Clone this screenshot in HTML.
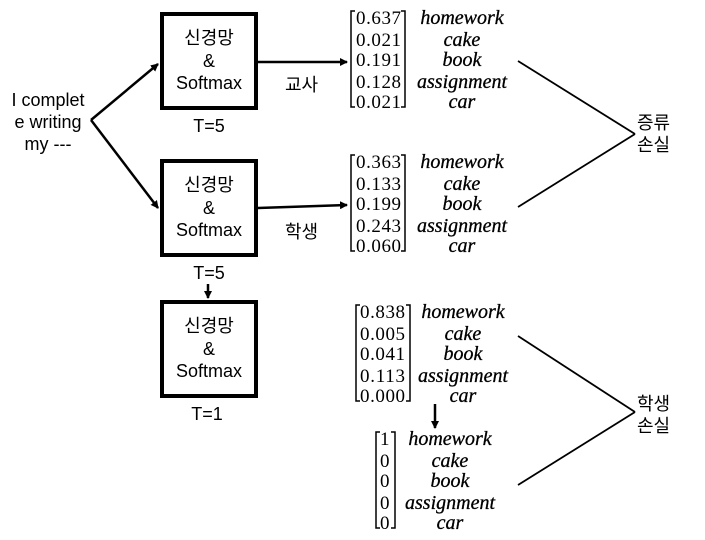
<!DOCTYPE html>
<html><head><meta charset="utf-8"><style>
html,body{margin:0;padding:0;background:#fff;}
svg{display:block}
.k{font-family:"Liberation Sans","Noto Sans CJK KR",sans-serif;font-size:18px;fill:#000}
.n{font-family:"Liberation Serif",serif;font-size:19px;fill:#000}
.w{font-family:"Liberation Serif",serif;font-style:italic;font-size:20px;fill:#000;stroke:#000;stroke-width:0.3}
</style></head><body>
<svg width="705" height="540" viewBox="0 0 705 540" xmlns="http://www.w3.org/2000/svg">
<defs><marker id="a" markerWidth="8" markerHeight="8" refX="7" refY="4" orient="auto" markerUnits="userSpaceOnUse"><path d="M0,0L8,4L0,8z" fill="#000"/></marker></defs>
<g stroke="#000" stroke-width="4" fill="none">
<rect x="162" y="14" width="94" height="94"/>
<rect x="162" y="161" width="94" height="94"/>
<rect x="162" y="302" width="94" height="94"/>
</g>
<g class="k" text-anchor="middle">
<text x="209" y="44">신경망</text><text x="209" y="67">&amp;</text><text x="209" y="89">Softmax</text>
<text x="209" y="191">신경망</text><text x="209" y="214">&amp;</text><text x="209" y="236">Softmax</text>
<text x="209" y="332">신경망</text><text x="209" y="355">&amp;</text><text x="209" y="377">Softmax</text>
<text x="209" y="132">T=5</text><text x="209" y="279">T=5</text><text x="207" y="420">T=1</text>
<text x="48" y="106">I complet</text><text x="48" y="128">e writing</text><text x="48" y="150">my ---</text>
</g>
<text class="k" x="285" y="91">교사</text>
<text class="k" x="285" y="238">학생</text>
<text class="k" x="637" y="129">증류</text><text class="k" x="637" y="151">손실</text>
<text class="k" x="637" y="410">학생</text><text class="k" x="637" y="432">손실</text>
<g stroke="#000" stroke-width="2.5" fill="none">
<line x1="91" y1="120" x2="158" y2="64" marker-end="url(#a)"/>
<line x1="91" y1="120" x2="158" y2="208" marker-end="url(#a)"/>
<line x1="258" y1="62" x2="347" y2="62" marker-end="url(#a)"/>
<line x1="258" y1="208" x2="347" y2="205" marker-end="url(#a)"/>
<line x1="208" y1="284" x2="208" y2="298" marker-end="url(#a)"/>
<line x1="435" y1="404" x2="435" y2="428" marker-end="url(#a)"/>
</g>
<g stroke="#000" stroke-width="1.8" fill="none">
<line x1="518" y1="61" x2="635" y2="134"/><line x1="518" y1="207" x2="635" y2="134"/>
<line x1="518" y1="336" x2="635" y2="412"/><line x1="518" y1="485" x2="635" y2="412"/>
</g>
<g stroke="#000" stroke-width="1.5" fill="none">
<path d="M355,11H351V107H355"/><path d="M401,11H405V107H401"/>
<path d="M360,305H356V401H360"/><path d="M406,305H410V401H406"/>
<path d="M355,155H351V251H355"/><path d="M401,155H405V251H401"/>
<path d="M380,432H376V528H380"/><path d="M391,432H395V528H391"/>
</g>
<g class="n">
<text x="356" y="24" textLength="45">0.637</text><text x="356" y="46" textLength="45">0.021</text><text x="356" y="66" textLength="45">0.191</text><text x="356" y="88" textLength="45">0.128</text><text x="356" y="108" textLength="45">0.021</text>
<text x="356" y="168" textLength="45">0.363</text><text x="356" y="190" textLength="45">0.133</text><text x="356" y="210" textLength="45">0.199</text><text x="356" y="232" textLength="45">0.243</text><text x="356" y="252" textLength="45">0.060</text>
<text x="360" y="318" textLength="45">0.838</text><text x="360" y="340" textLength="45">0.005</text><text x="360" y="360" textLength="45">0.041</text><text x="360" y="382" textLength="45">0.113</text><text x="360" y="402" textLength="45">0.000</text>
<text x="380" y="445">1</text><text x="380" y="467">0</text><text x="380" y="487">0</text><text x="380" y="509">0</text><text x="380" y="529">0</text>
</g>
<g class="w" text-anchor="middle">
<text x="462" y="24">homework</text><text x="462" y="46">cake</text><text x="462" y="66">book</text><text x="462" y="88">assignment</text><text x="462" y="108">car</text>
<text x="462" y="168">homework</text><text x="462" y="190">cake</text><text x="462" y="210">book</text><text x="462" y="232">assignment</text><text x="462" y="252">car</text>
<text x="463" y="318">homework</text><text x="463" y="340">cake</text><text x="463" y="360">book</text><text x="463" y="382">assignment</text><text x="463" y="402">car</text>
<text x="450" y="445">homework</text><text x="450" y="467">cake</text><text x="450" y="487">book</text><text x="450" y="509">assignment</text><text x="450" y="529">car</text>
</g>
</svg>
</body></html>
